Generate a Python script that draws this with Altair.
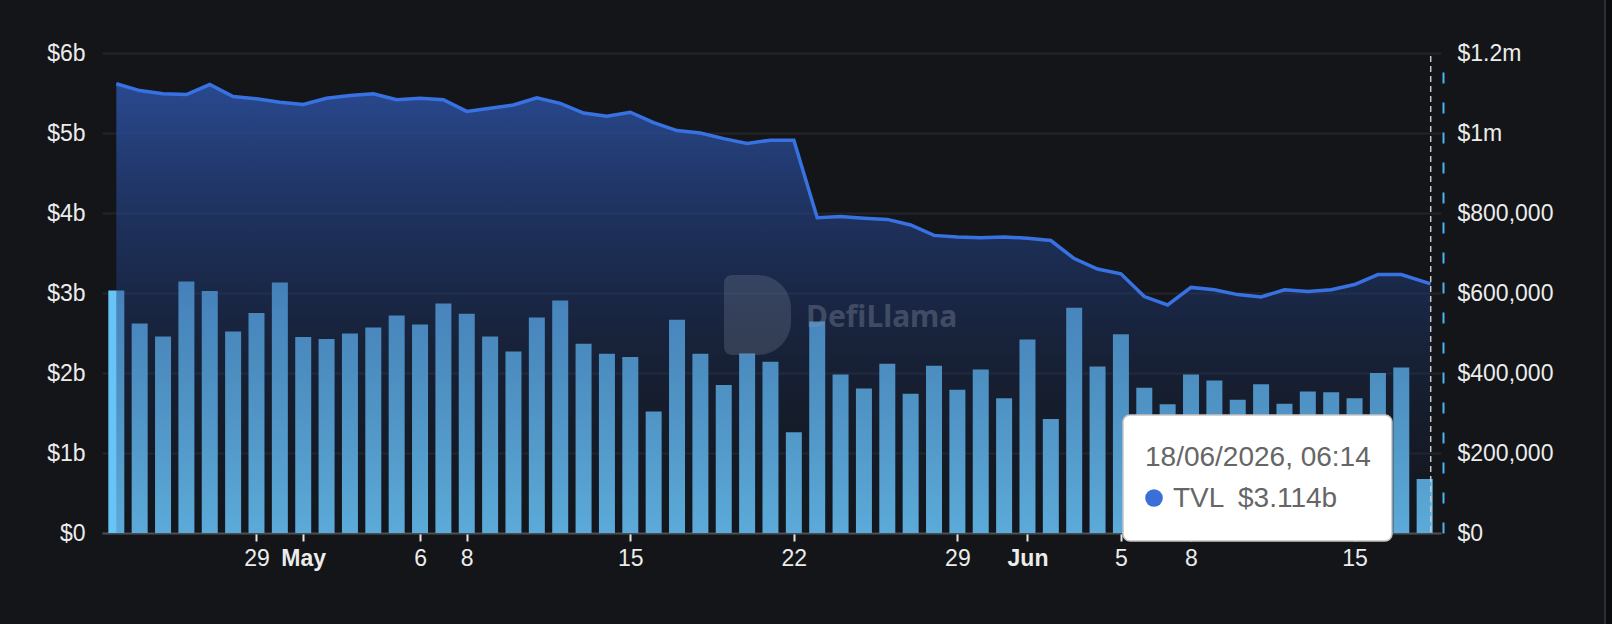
import altair as alt
import pandas as pd

# ---- data ----
# TVL in $ billions: daily 23 Apr 2026 .. 17 Jun 2026, then 18 Jun 2026 06:14
tvl_b = [5.615, 5.53, 5.49, 5.48, 5.606, 5.456, 5.427, 5.385, 5.356, 5.435,
         5.47, 5.49, 5.415, 5.435, 5.415, 5.27, 5.31, 5.35, 5.44, 5.37,
         5.25, 5.21, 5.26, 5.13, 5.03, 5.00, 4.93, 4.87, 4.91, 4.91,
         3.94, 3.956, 3.935, 3.92, 3.85, 3.72, 3.70, 3.69, 3.70, 3.685,
         3.656, 3.43, 3.30, 3.24, 2.956, 2.85, 3.07, 3.04, 2.98, 2.95,
         3.04, 3.02, 3.04, 3.106, 3.23, 3.23, 3.114]
last_tvl_time = "2026-06-18T06:14:00Z"

# daily bars in $ thousands: 23 Apr 2026 .. 18 Jun 2026
bar_k = [606, 524, 491, 629, 605, 504, 550, 626, 490, 485,
         499, 514, 544, 521, 574, 548, 491, 454, 539, 581,
         473, 448, 440, 304, 533, 448, 370, 449, 428, 252,
         529, 396, 361, 423, 348, 418, 358, 409, 337, 484,
         285, 563, 416, 497, 363, 322, 396, 381, 333, 372,
         323, 354, 352, 337, 400, 414, 135]

days = [d.strftime("%Y-%m-%dT00:00:00Z") for d in pd.date_range("2026-04-23", "2026-06-18", freq="D")]
tvl_dates = days[:-1] + [last_tvl_time]

tick_days = [(4, 29), (5, 1), (5, 6), (5, 8), (5, 15), (5, 22), (5, 29), (6, 1), (6, 5), (6, 8), (6, 15)]
left_ticks = [0, 1, 2, 3, 4, 5, 6]
right_ticks = [0, 200, 400, 600, 800, 1000, 1200]

tooltip_date = "18/06/2026, 06:14"
tooltip_series = "TVL"
tooltip_value = "$3.114b"
watermark = "DefiLlama"

tvl_df = pd.DataFrame({"date": tvl_dates, "tvl": tvl_b})
bar_df = pd.DataFrame({"date": days, "vol": bar_k})
last_df = tvl_df.tail(1)
one = pd.DataFrame({"a": [0]})

LABEL_FONT = "Liberation Sans"
LABEL_COLOR = "#ececec"

x_enc = alt.X(
    "date:T",
    scale=alt.Scale(
        type="utc", nice=False, padding=0,
        domain=[alt.DateTime(year=2026, month=4, date=22, hours=9, minutes=18, utc=True),
                alt.DateTime(year=2026, month=6, date=18, hours=16, minutes=48, utc=True)],
    ),
    axis=alt.Axis(
        values=[alt.DateTime(year=2026, month=m, date=d, utc=True) for m, d in tick_days],
        labelExpr="utcdate(datum.value) == 1 ? utcFormat(datum.value, '%b') : '' + utcdate(datum.value)",
        labelFontWeight={"condition": {"test": "utcdate(datum.value) == 1", "value": "bold"}, "value": "normal"},
        title=None, grid=False,
        domainColor="#4b4e53", domainWidth=2,
        tickColor="#e6e6e6", tickWidth=2, tickSize=8,
        labelColor=LABEL_COLOR, labelFontSize=23, labelFont=LABEL_FONT, labelPadding=6,
    ),
)

bars = alt.Chart(bar_df).mark_bar(size=16, color="#68c3f7").encode(
    x=x_enc,
    y=alt.Y("vol:Q", scale=alt.Scale(domain=[0, 1200], nice=False),
            axis=alt.Axis(orient="right", values=right_ticks,
                          labelExpr="datum.value == 0 ? '$0' : (datum.value >= 1000 ? '$' + (datum.value / 1000) + 'm' : '$' + format(datum.value * 1000, ','))",
                          title=None, grid=False, ticks=False, domain=True,
                          domainColor="#4fb4f0", domainWidth=2, domainDash=[11, 19],
                          offset=2, labelPadding=14,
                          labelColor=LABEL_COLOR, labelFontSize=23, labelFont=LABEL_FONT)),
)

area_grad = alt.LinearGradient(
    gradient="linear", x1=0, x2=0, y1=0, y2=1,
    stops=[alt.GradientStop(color="rgba(44,80,160,0.88)", offset=0),
           alt.GradientStop(color="rgba(32,58,118,0.45)", offset=0.5),
           alt.GradientStop(color="rgba(20,30,50,0.15)", offset=1)],
)

y_left = alt.Y("tvl:Q", scale=alt.Scale(domain=[0, 6], nice=False),
               axis=alt.Axis(values=left_ticks,
                             labelExpr="datum.value == 0 ? '$0' : '$' + datum.value + 'b'",
                             title=None, grid=True, gridColor="#222428", gridWidth=2,
                             domain=False, ticks=False, labelPadding=17,
                             labelColor=LABEL_COLOR, labelFontSize=23, labelFont=LABEL_FONT))

area = alt.Chart(tvl_df).mark_area(color=area_grad).encode(x=x_enc, y=y_left)
line = alt.Chart(tvl_df).mark_line(color="#3872e2", strokeWidth=3.5).encode(x=x_enc, y=y_left)

crosshair = alt.Chart(last_df).mark_rule(color="#c8c8c8", strokeWidth=1.5, strokeDash=[6, 4]).encode(
    x=x_enc, y=alt.value(3), y2=alt.value(480))

logo = alt.Chart(one).mark_rect(
    color="#8892a6", opacity=0.25,
    cornerRadiusTopLeft=8, cornerRadiusBottomLeft=8,
    cornerRadiusTopRight=36, cornerRadiusBottomRight=36,
).encode(x=alt.value(622), x2=alt.value(689), y=alt.value(222), y2=alt.value(302))

wm_text = alt.Chart(one).mark_text(
    text=watermark, font="Noto Sans", fontSize=30, fontWeight="bold",
    color="#8a94a8", opacity=0.35, align="left", baseline="middle",
).encode(x=alt.value(704), y=alt.value(265))

tip_box = alt.Chart(one).mark_rect(
    color="#ffffff", stroke="#c4c4c4", strokeWidth=1.5, cornerRadius=7,
).encode(x=alt.value(1021), x2=alt.value(1290), y=alt.value(362), y2=alt.value(488))

tip_date = alt.Chart(one).mark_text(
    text=tooltip_date, font=LABEL_FONT, fontSize=28, color="#666666",
    align="left", baseline="alphabetic",
).encode(x=alt.value(1043), y=alt.value(413))

tip_dot = alt.Chart(one).mark_point(
    shape="circle", filled=True, size=310, color="#3a6fd8", opacity=1,
).encode(x=alt.value(1052), y=alt.value(445))

tip_series = alt.Chart(one).mark_text(
    text=tooltip_series, font=LABEL_FONT, fontSize=28, color="#666666",
    align="left", baseline="alphabetic",
).encode(x=alt.value(1071), y=alt.value(454))

tip_value = alt.Chart(one).mark_text(
    text=tooltip_value, font=LABEL_FONT, fontSize=28, color="#666666",
    align="left", baseline="alphabetic",
).encode(x=alt.value(1136), y=alt.value(454))

edge1 = alt.Chart(one).mark_rect(color="#2b2e33").encode(
    x=alt.value(1502), x2=alt.value(1504), y=alt.value(-53), y2=alt.value(571))
edge2 = alt.Chart(one).mark_rect(color="#0b0c0e").encode(
    x=alt.value(1504), x2=alt.value(1510), y=alt.value(-53), y2=alt.value(571))

tvl_layer = alt.layer(area, line, crosshair, logo, wm_text,
                      tip_box, tip_date, tip_dot, tip_series, tip_value, edge1, edge2)

chart = alt.layer(bars, tvl_layer).resolve_scale(y="independent").properties(
    width=1339, height=480,
    background="#131518",
    padding={"left": 102, "top": 53, "right": 171, "bottom": 91},
    autosize=alt.AutoSizeParams(type="none"),
).configure_view(stroke=None)

chart.save("out.html", embed_options={"renderer": "svg", "actions": False})
